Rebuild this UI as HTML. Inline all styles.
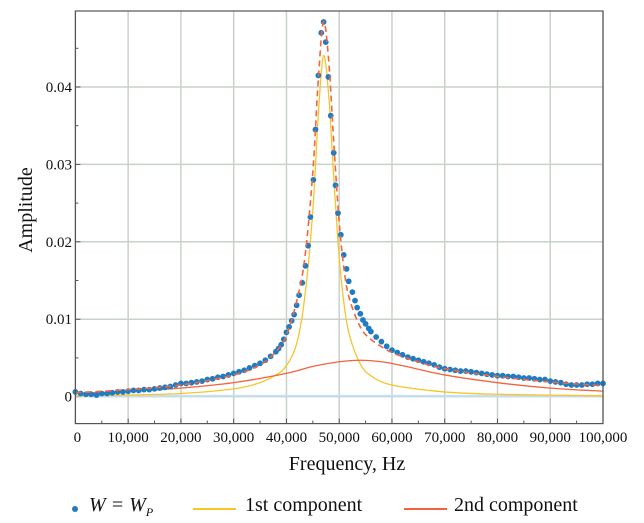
<!DOCTYPE html>
<html><head><meta charset="utf-8"><style>
body{margin:0;background:#fff;}
svg{display:block;font-family:"Liberation Serif",serif;}
</style></head><body>
<svg id="chart" width="644" height="523"></svg>
<script>
const xTicks=[0,10000,20000,30000,40000,50000,60000,70000,80000,90000,100000];
const xTickLabels=["0","10,000","20,000","30,000","40,000","50,000","60,000","70,000","80,000","90,000","100,000"];
const yTicks=[0,0.01,0.02,0.03,0.04];
const yTickLabels=["0","0.01","0.02","0.03","0.04"];
const measFreq=[0,1000,2000,3000,4000,5000,6000,7000,8000,9000,10000,11000,12000,13000,14000,15000,16000,17000,18000,19000,20000,21000,22000,23000,24000,25000,26000,27000,28000,29000,30000,31000,32000,33000,34000,35000,36000,37000,38000,38500,39000,39500,40000,40500,41000,41460,41930,42400,43000,43600,44100,44540,45100,45500,46050,46600,47045,47450,47950,48400,48960,49300,49770,50310,50860,51400,51800,52500,53000,53400,54000,54500,55000,55600,56000,57000,58000,59000,60000,61000,62000,63000,64000,65000,66000,67000,68000,69000,70000,71000,72000,73000,74000,75000,76000,77000,78000,79000,80000,81000,82000,83000,84000,85000,86000,87000,88000,89000,90000,91000,92000,93000,94000,95000,96000,97000,98000,99000,100000];
const measAmp=[0.0006,0.0004,0.0003,0.0003,0.0002,0.0004,0.0004,0.0005,0.0006,0.0006,0.0007,0.0008,0.0008,0.0009,0.0009,0.0010,0.0011,0.0012,0.0013,0.0015,0.0017,0.0017,0.0018,0.0019,0.0020,0.0022,0.0023,0.0025,0.0026,0.0028,0.0030,0.0032,0.0034,0.0037,0.0040,0.0043,0.0047,0.0052,0.0058,0.0062,0.0067,0.0074,0.0083,0.0090,0.0098,0.0106,0.0118,0.0131,0.0147,0.0169,0.0195,0.0232,0.0280,0.0345,0.0415,0.0470,0.0484,0.0458,0.0413,0.0363,0.0315,0.0273,0.0237,0.0209,0.0183,0.0165,0.0149,0.0135,0.0124,0.0115,0.0107,0.0099,0.0094,0.0088,0.0084,0.0077,0.0071,0.0065,0.0060,0.0057,0.0054,0.0051,0.0049,0.0047,0.0045,0.0043,0.0041,0.0038,0.0036,0.0035,0.0034,0.0033,0.0033,0.0032,0.0031,0.0030,0.0029,0.0028,0.0027,0.0027,0.0026,0.0026,0.0025,0.0024,0.0024,0.0023,0.0022,0.0022,0.0020,0.0019,0.0018,0.0016,0.0015,0.0015,0.0015,0.0016,0.0016,0.0017,0.0017];
const fitFreq=[0,10000,20000,30000,35000,38000,40000,42000,43500,45000,46000,47000,48000,49000,50000,51000,52000,54000,56000,60000,65000,70000,80000,90000,100000];
const fitAmp=[0.0005,0.0009,0.0015,0.0028,0.0041,0.0058,0.0079,0.0125,0.0180,0.0290,0.0405,0.0484,0.0435,0.0325,0.0225,0.0160,0.0125,0.0090,0.0074,0.0057,0.0045,0.0036,0.0026,0.0019,0.0014];
const comp1Freq=[0,10000,20000,30000,35000,38000,40000,42000,43500,45000,46000,47000,48000,49000,50000,51000,52000,54000,56000,60000,70000,80000,100000];
const comp1Amp=[0.0001,0.0002,0.0004,0.0010,0.0018,0.0028,0.0040,0.0070,0.0130,0.0240,0.0360,0.0440,0.0390,0.0280,0.0180,0.0115,0.0078,0.0042,0.0027,0.0015,0.0006,0.0003,0.0001];
const comp2Freq=[0,10000,20000,30000,40000,45000,50000,54000,58000,62000,70000,80000,90000,100000];
const comp2Amp=[0.0004,0.0007,0.0011,0.0018,0.0030,0.0039,0.0045,0.0047,0.0045,0.0040,0.0028,0.0018,0.0011,0.0007];

const L=75.4,R=603,T=11,B=423.6,Y0=396.6,PY=7740;
const sx=f=>L+(f-0)/100000*(R-L);
const sy=v=>Y0-v*PY;
const svg=document.getElementById('chart');
const NS='http://www.w3.org/2000/svg';
function mk(tag,attrs,parent){const e=document.createElementNS(NS,tag);for(const k in attrs)e.setAttribute(k,attrs[k]);(parent||svg).appendChild(e);return e;}

const grid=mk('g',{});


xTicks.forEach(f=>{mk('line',{x1:sx(f),x2:sx(f),y1:T,y2:B,stroke:'#c9d2c9','stroke-width':1.5},grid);});
yTicks.forEach(v=>{mk('line',{x1:L,x2:R,y1:sy(v),y2:sy(v),stroke:'#c9d2c9','stroke-width':1.5},grid);});

const ticks=mk('g',{stroke:'#555','stroke-width':1});


for(let f=0;f<=100000;f+=5000){const len=f%10000===0?5:3;mk('line',{x1:sx(f),x2:sx(f),y1:B,y2:B-len},ticks);}
for(let v=0;v<=0.0495;v+=0.005){const len=Math.round(v*1000)%10===0?5:3;mk('line',{x1:L,x2:L+len,y1:sy(v),y2:sy(v)},ticks);}

const base=mk('line',{x1:sx(0),x2:sx(100000),y1:sy(0.0001),y2:sy(0.0001),stroke:'#bfe0f5','stroke-width':2});



function smoothPath(xs,ys){
  const p=xs.map((x,i)=>[sx(x),sy(ys[i])]);
  let d='M'+p[0][0]+','+p[0][1];
  for(let i=0;i<p.length-1;i++){
    const p0=p[i-1]||p[i],p1=p[i],p2=p[i+1],p3=p[i+2]||p2;
    const c1=[p1[0]+(p2[0]-p0[0])/6,p1[1]+(p2[1]-p0[1])/6];
    const c2=[p2[0]-(p3[0]-p1[0])/6,p2[1]-(p3[1]-p1[1])/6];
    d+=' C'+c1[0]+','+c1[1]+' '+c2[0]+','+c2[1]+' '+p2[0]+','+p2[1];
  }
  return d;
}
const c1=mk('path',{d:smoothPath(comp1Freq,comp1Amp),fill:'none',stroke:'#f7c52a','stroke-width':1.3});


const c2=mk('path',{d:smoothPath(comp2Freq,comp2Amp),fill:'none',stroke:'#f2623c','stroke-width':1.3});



const dots=mk('g',{fill:'#1f7cc4'});


measFreq.forEach((f,i)=>{
  const c=mk('circle',{cx:sx(f),cy:sy(measAmp[i]),r:2.9},dots);
  
  
});
const fit=mk('path',{d:smoothPath(fitFreq,fitAmp),fill:'none',stroke:'#f0673f','stroke-width':1.6,'stroke-dasharray':'6,4'});



const frame=mk('rect',{x:L,y:T,width:R-L,height:B-T,fill:'none',stroke:'#555','stroke-width':1.2});



xTicks.forEach((f,i)=>{
  const t=mk('text',{x:sx(f)+(i===0?2:0),y:442,'text-anchor':'middle','font-size':15,fill:'#111'});
  t.textContent=xTickLabels[i];
  
  
});
yTicks.forEach((v,i)=>{
  const t=mk('text',{x:72,y:sy(v)+5,'text-anchor':'end','font-size':15,fill:'#111'});
  t.textContent=yTickLabels[i];
  
  
});
const xt=mk('text',{x:347,y:470,'text-anchor':'middle','font-size':20,fill:'#111'});
xt.textContent='Frequency, Hz';


const yt=mk('text',{x:0,y:0,'text-anchor':'middle','font-size':20,fill:'#111',transform:'translate(32,210) rotate(-90)'});
yt.textContent='Amplitude';


</script>
<div style="position:absolute;left:0;top:490px;width:644px;height:30px;font-family:'Liberation Serif',serif;font-size:20px;color:#111;">
  <span style="position:absolute;left:72px;top:4px;">
    <span style="position:absolute;left:0;top:12px;width:6px;height:6px;border-radius:50%;background:#1f7cc4;"></span>
    <span style="position:absolute;left:17px;top:0;white-space:nowrap;font-style:italic;">W = W<sub style="font-size:12px;">P</sub></span>
  </span>
  <span style="position:absolute;left:193px;top:4px;white-space:nowrap;">
    <span style="position:absolute;left:0;top:14px;width:43px;height:1.5px;background:#f7c52a;"></span>
    <span style="position:absolute;left:52px;top:0;">1st component</span>
  </span>
  <span style="position:absolute;left:404px;top:4px;white-space:nowrap;">
    <span style="position:absolute;left:0;top:14px;width:43px;height:1.5px;background:#f2623c;"></span>
    <span style="position:absolute;left:50px;top:0;">2nd component</span>
  </span>
</div>
</body></html>
